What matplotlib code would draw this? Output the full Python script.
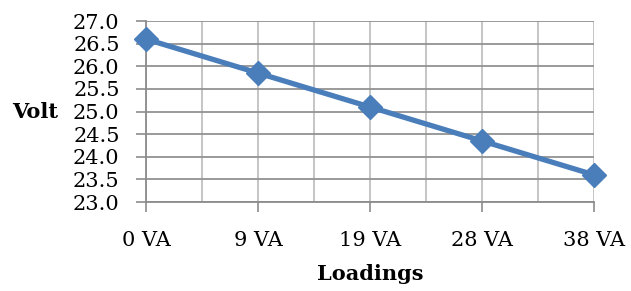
import matplotlib.pyplot as plt
import numpy as np

loadings = ["0 VA", "9 VA", "19 VA", "28 VA", "38 VA"]
volts = [26.6, 25.85, 25.1, 24.35, 23.6]
y_ticks = [23.0, 23.5, 24.0, 24.5, 25.0, 25.5, 26.0, 26.5, 27.0]

plt.rcParams["font.family"] = ["DejaVu Serif"]

fig = plt.figure(figsize=(6.31, 2.91), dpi=100)
ax = fig.add_axes([0.2314, 0.3058, 0.71, 0.622])

x = np.arange(len(loadings))
ax.plot(x, volts, color="#4A7EBB", linewidth=3.8, marker="D", markersize=12,
        clip_on=False, zorder=3)

ax.set_xlim(0, len(loadings) - 1)
ax.set_ylim(y_ticks[0], y_ticks[-1])
ax.set_xticks(x)
ax.set_xticklabels(loadings)
ax.set_xticks(np.arange(0.5, len(loadings) - 1, 1.0), minor=True)
ax.set_yticks(y_ticks)
ax.set_yticklabels([f"{v:.1f}" for v in y_ticks])

# horizontal grid darker than the vertical one, like the original
ax.yaxis.grid(True, color="#929292", linewidth=1.3)
ax.xaxis.grid(True, which="both", color="#C0C0C0", linewidth=1.3)
ax.set_axisbelow(True)
ax.tick_params(which="minor", length=0)
ax.tick_params(which="major", length=7, color="#8C8C8C", width=1.2,
               labelsize=15)
ax.tick_params(axis="y", pad=12)
ax.tick_params(axis="x", pad=14)

for side in ["top", "right"]:
    ax.spines[side].set_visible(False)
for side in ["left", "bottom"]:
    ax.spines[side].set_color("#8C8C8C")
    ax.spines[side].set_linewidth(1.3)

ax.set_ylabel("Volt", fontsize=15, fontweight="bold", rotation=0,
              va="center", ha="left")
ax.yaxis.set_label_coords(-0.298, 0.5)
ax.set_xlabel("Loadings", fontsize=15, fontweight="bold", labelpad=10)

fig.savefig("out.png", dpi=100)
